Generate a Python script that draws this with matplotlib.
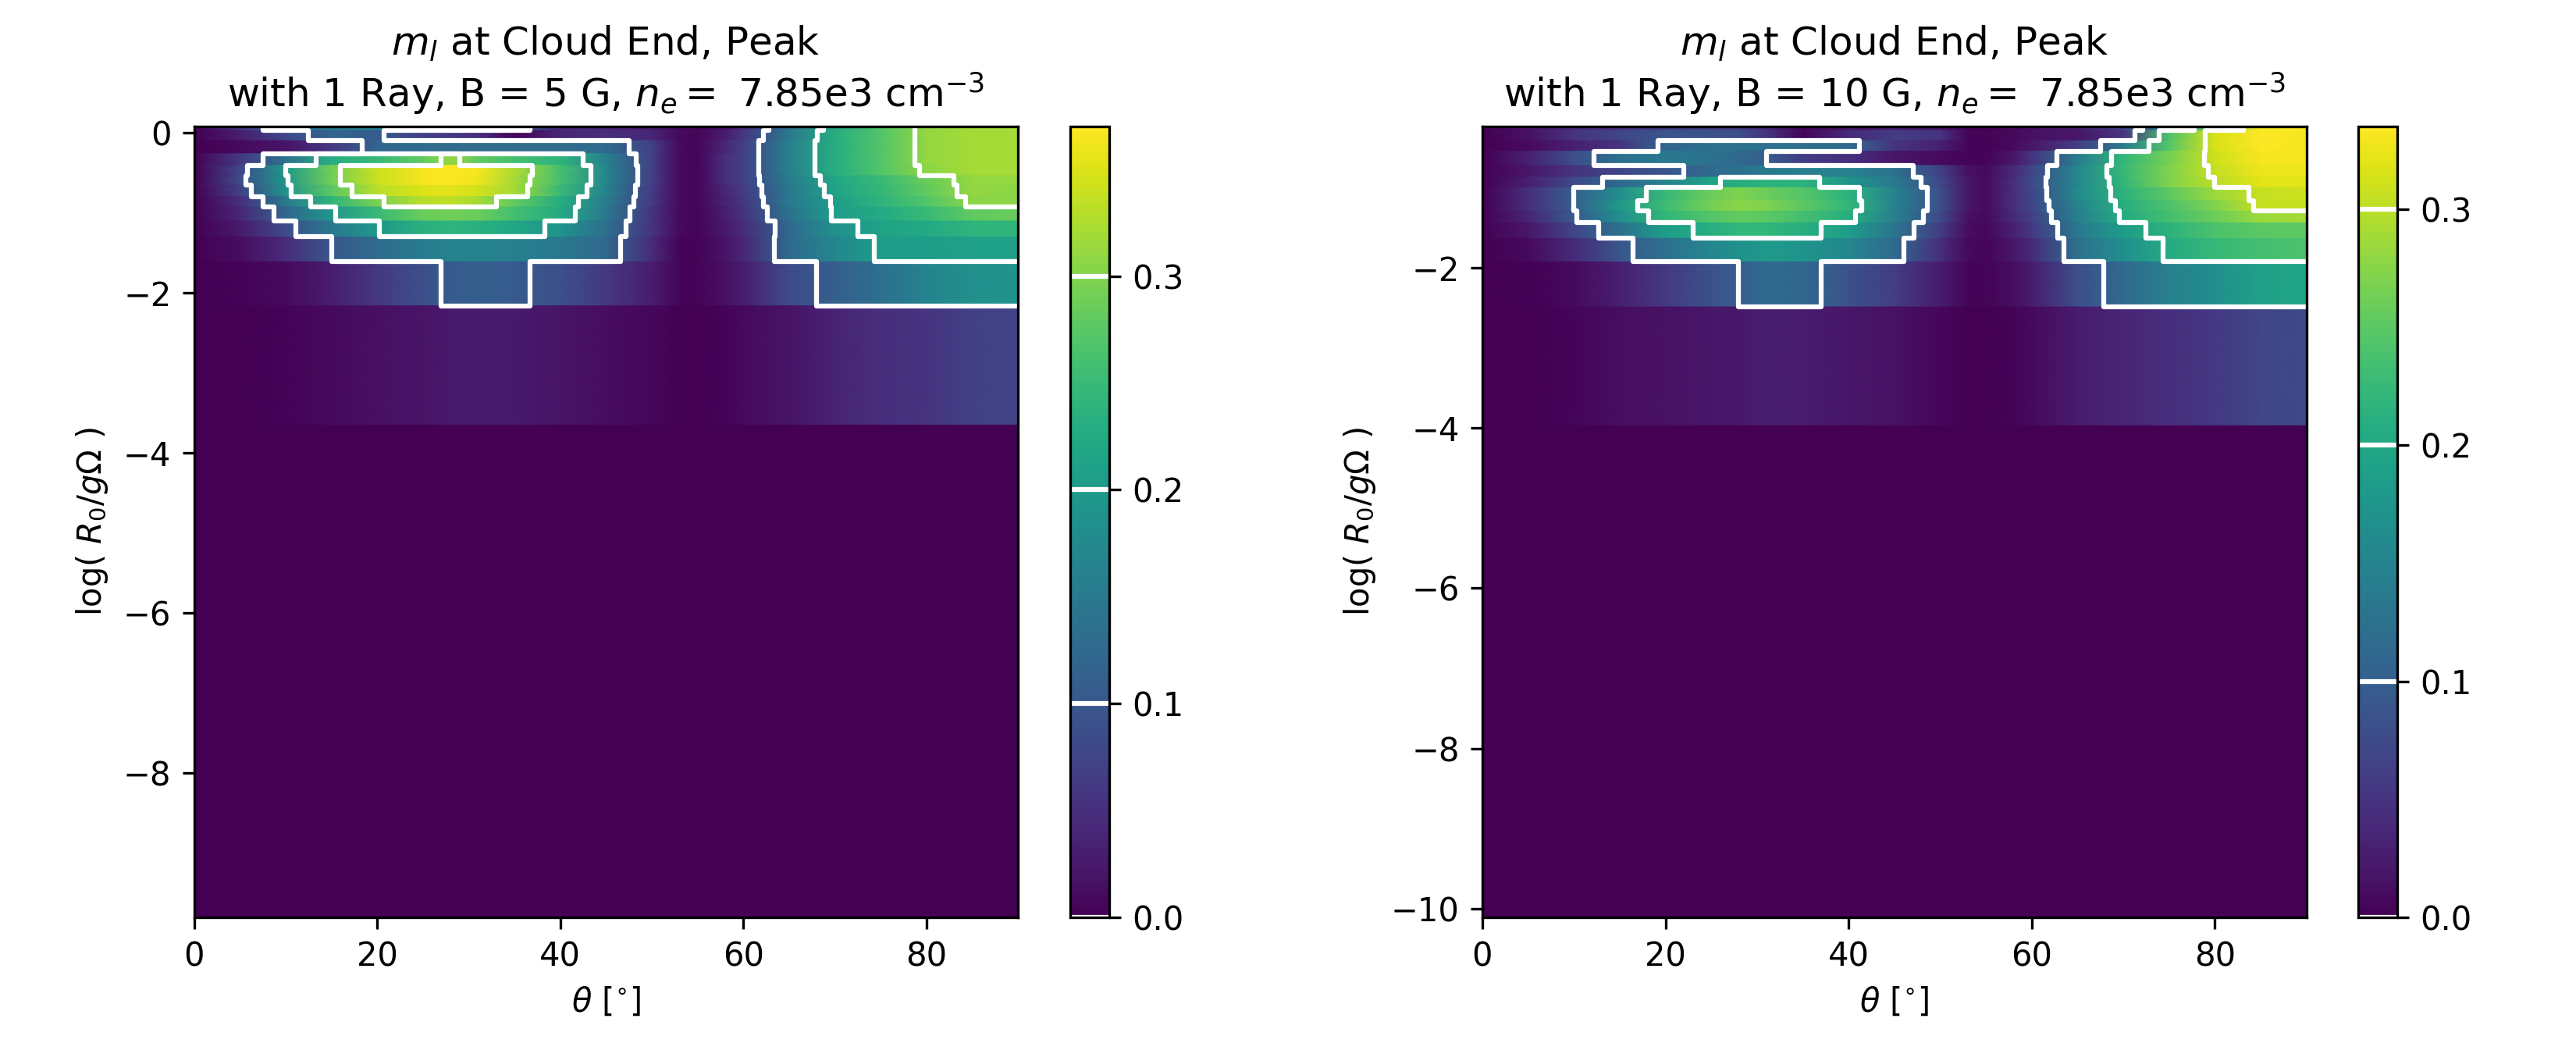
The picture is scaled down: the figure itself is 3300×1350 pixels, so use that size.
import matplotlib
matplotlib.use("Agg")
import matplotlib.pyplot as plt
import numpy as np

# pixel-derived figure geometry, 3300x1350 at 300 dpi
WIDTH = 11
HEIGHT = 4.5
LINE_COLOR = "white"
LEVELS = [0.1, 0.2, 0.3]
CBAR_TICKS = [0.0, 0.1, 0.2, 0.3]

THETA = [0, 5, 10, 15, 20, 25, 28, 31, 35, 40, 45, 50, 53, 55, 58, 60, 65, 70, 75, 80, 85, 90]

# band edges of log(R0/g Omega), top to bottom
EDGES_5G = [0.08, 0.032, -0.097, -0.26, -0.405, -0.535, -0.655, -0.795, -0.925,
            -1.10, -1.30, -1.61, -2.16, -3.65, -9.8]
EDGES_10G = [-0.233, -0.282, -0.411, -0.541, -0.72, -0.867, -0.997, -1.16, -1.29,
             -1.436, -1.631, -1.924, -2.486, -3.97, -10.11]

# m_l per band (rows) and theta (columns)
ML_5G = [
    [0, .06, .14, .15, .17, .17, .16, .15, .13, .04, .04, .03, .01, .005, .02, .05, .14, .22, .27, .31, .32, .32],
    [0, .03, .08, .12, .105, .07, .06, .05, .005, .04, .05, .04, .01, .005, .03, .06, .15, .23, .27, .31, .32, .32],
    [0, .01, .02, .06, .12, .13, .13, .13, .13, .13, .13, .07, .01, .005, .04, .07, .16, .23, .27, .31, .32, .32],
    [0, .06, .14, .23, .25, .28, .31, .28, .26, .24, .16, .07, .01, .005, .05, .07, .16, .23, .27, .31, .32, .32],
    [0, .08, .20, .29, .34, .365, .37, .365, .325, .26, .17, .07, .01, .005, .05, .07, .16, .23, .27, .305, .32, .32],
    [0, .085, .195, .29, .34, .365, .37, .36, .32, .26, .17, .07, .01, .005, .05, .07, .155, .22, .25, .285, .31, .31],
    [0, .07, .19, .275, .33, .35, .355, .345, .32, .25, .165, .065, .01, .005, .04, .065, .15, .215, .245, .28, .31, .305],
    [0, .05, .15, .24, .295, .33, .335, .32, .28, .23, .155, .065, .01, .005, .035, .06, .15, .205, .24, .27, .305, .305],
    [0, .04, .12, .195, .25, .285, .29, .285, .26, .225, .15, .055, .01, .005, .03, .055, .14, .205, .225, .25, .28, .285],
    [0, .025, .085, .15, .198, .235, .24, .235, .22, .19, .135, .055, .01, .005, .025, .045, .125, .185, .215, .225, .24, .24],
    [0, .012, .045, .10, .13, .155, .165, .165, .16, .15, .125, .045, .005, .003, .02, .04, .128, .17, .205, .205, .21, .21],
    [0, .003, .01, .03, .06, .09, .105, .11, .105, .09, .06, .03, .005, .003, .015, .03, .085, .11, .135, .165, .185, .19],
    [0, .001, .003, .01, .015, .02, .025, .025, .025, .02, .012, .006, .001, .001, .004, .01, .02, .035, .05, .055, .07, .075],
    [0] * 22,
]
ML_10G = [
    [0, .02, .04, .05, .06, .06, .06, .04, .005, .02, .03, .02, .005, .003, .01, .015, .03, .07, .14, .25, .33, .33],
    [0, .015, .05, .07, .09, .085, .08, .05, .005, .04, .06, .05, .005, .003, .008, .015, .02, .05, .24, .315, .335, .33],
    [0, .01, .03, .05, .11, .125, .125, .125, .125, .115, .05, .03, .005, .003, .01, .02, .06, .14, .245, .315, .335, .33],
    [0, .03, .08, .125, .135, .125, .115, .10, .06, .045, .02, .01, .003, .003, .02, .05, .14, .22, .265, .31, .33, .33],
    [0, .02, .05, .07, .09, .115, .125, .135, .145, .15, .125, .065, .015, .008, .04, .07, .155, .225, .27, .305, .325, .325],
    [0, .03, .075, .115, .15, .195, .21, .215, .215, .175, .135, .075, .02, .01, .045, .075, .155, .22, .27, .30, .32, .32],
    [0, .045, .10, .165, .225, .26, .27, .26, .245, .215, .15, .08, .02, .01, .045, .07, .16, .215, .25, .285, .305, .31],
    [0, .045, .10, .18, .23, .265, .275, .27, .25, .22, .15, .08, .02, .01, .045, .07, .15, .21, .24, .27, .305, .305],
    [0, .035, .095, .165, .22, .245, .255, .25, .235, .21, .145, .075, .015, .008, .04, .065, .145, .205, .235, .26, .285, .29],
    [0, .02, .07, .125, .185, .21, .22, .22, .21, .185, .13, .06, .012, .006, .03, .055, .135, .185, .215, .24, .25, .25],
    [0, .008, .04, .09, .125, .155, .17, .18, .175, .155, .115, .045, .008, .005, .02, .04, .125, .165, .205, .225, .235, .24],
    [0, .002, .008, .03, .055, .085, .10, .115, .11, .085, .06, .025, .005, .003, .012, .025, .08, .115, .145, .165, .19, .195],
    [0, .001, .004, .012, .015, .02, .022, .028, .025, .02, .015, .006, .001, .001, .003, .008, .025, .035, .045, .055, .07, .075],
    [0] * 22,
]
FIELDS = [5, 10]
VMAX = [0.37, 0.335]
YLIMS = [(-9.8, 0.08), (-10.11, -0.233)]
AXES_X = [(248.6, 1304.0), (1899.0, 2954.5)]
CBAR_X = [(1371.0, 1421.0), (3020.5, 3071.0)]
TOP_PX = 162.0
BOTTOM_PX = 1175.0


def px_rect(x0: float, x1: float) -> list:
    return [x0 / 3300, 1 - BOTTOM_PX / 1350, (x1 - x0) / 3300, (BOTTOM_PX - TOP_PX) / 1350]


def draw_panel(fig: plt.Figure, i: int, values: list, edges: list) -> None:
    ax = fig.add_axes(px_rect(*AXES_X[i]))
    cax = fig.add_axes(px_rect(*CBAR_X[i]))

    # every band appears twice so colour only blends along theta
    z = np.repeat(np.array(values, dtype=float), 2, axis=0)
    y = np.ravel(np.column_stack((edges[:-1], edges[1:])))
    x_grid, y_grid = np.meshgrid(THETA, y)

    mesh = ax.pcolormesh(x_grid, y_grid, z, shading="gouraud", cmap="viridis",
                         vmin=0, vmax=VMAX[i], rasterized=True)
    lines = ax.contour(x_grid, y_grid, z, levels=LEVELS, colors=LINE_COLOR, linewidths=1.5)
    lines.set_capstyle("round")
    lines.set_joinstyle("round")

    ax.set_xlim(0, 90)
    ax.set_ylim(*YLIMS[i])
    ax.set_xlabel(r"$\theta$ [$^{\circ}$]")
    ax.set_ylabel(r"log( $R_0/g\Omega$ )")
    ax.set_title("$m_l$ at Cloud End, Peak\n"
                 f"with 1 Ray, B = {FIELDS[i]} G, $n_e =$ 7.85e3 cm$^{{-3}}$")

    cbar = fig.colorbar(mesh, cax=cax, ticks=CBAR_TICKS)
    cbar.add_lines(lines)
    cax.axhline(0, color=LINE_COLOR, linewidth=1.5)


fig = plt.figure(figsize=(WIDTH, HEIGHT), dpi=300)
draw_panel(fig, 0, ML_5G, EDGES_5G)
draw_panel(fig, 1, ML_10G, EDGES_10G)
fig.savefig("out.png", dpi=300)
